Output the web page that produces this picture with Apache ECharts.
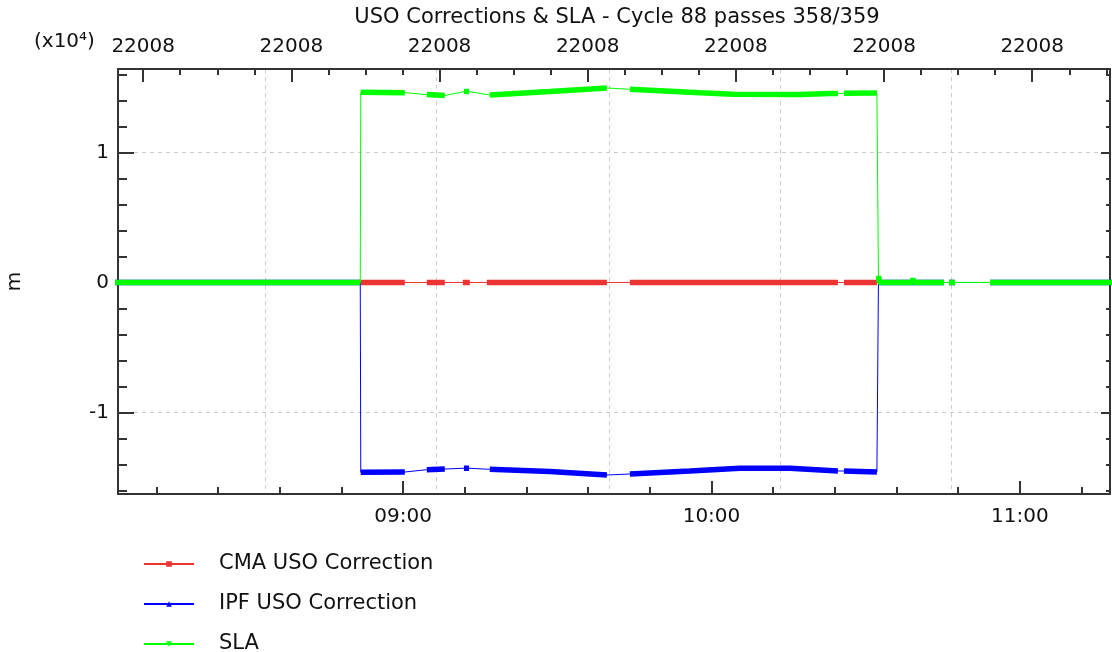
<!DOCTYPE html>
<html>
<head>
<meta charset="utf-8">
<title>USO Corrections & SLA</title>
<script src="https://cdn.jsdelivr.net/npm/echarts@6/dist/echarts.min.js"></script>
<style>
    html, body { margin: 0; padding: 0; background: #fff; }
    #chart { width: 1112px; height: 652px; }
</style>
</head>
<body>
<div id="chart"></div>
<script>
    // bottom axis: time of day
    const timeMin = '08:04:32';
    const timeMax = '11:17:32';
    const timeLabels = ['09:00', '10:00', '11:00'];
    const gridTimes = ['08:33:13', '09:06:30', '09:40:04', '10:13:19', '10:46:44'];

    // top axis
    const topMin = -0.17;
    const topMax = 6.525;
    const topTicks = [0, 1, 2, 3, 4, 5, 6];
    const topLabels = ['22008', '22008', '22008', '22008', '22008', '22008', '22008'];

    // y axis (m)
    const yMin = -16270;
    const yMax = 16420;
    const yTicks = [-10000, 0, 10000];

    const names = ['CMA USO Correction', 'IPF USO Correction', 'SLA'];

    // each run = densely sampled stretch, gaps between runs are drawn thin
    const cmaRuns = [
        [['08:51:46', 0], ['09:00:20', 0]],
        [['09:04:37', 0], ['09:08:07', 0]],
        [['09:11:37', 0], ['09:12:59', 0]],
        [['09:16:17', 0], ['09:39:39', 0]],
        [['09:44:07', 0], ['10:24:36', 0]],
        [['10:25:46', 0], ['10:32:11', 0]]
    ];
    const ipfRuns = [
        [['08:03:00', 0], ['08:51:40', 0]],
        [['08:51:46', -14600], ['09:00:20', -14580]],
        [['09:04:37', -14400], ['09:08:07', -14350]],
        [['09:11:50', -14290], ['09:12:50', -14290]],
        [['09:16:52', -14370], ['09:28:33', -14540], ['09:39:39', -14810]],
        [['09:44:07', -14730], ['09:55:48', -14500], ['10:05:32', -14290], ['10:15:16', -14290], ['10:24:36', -14500]],
        [['10:25:46', -14500], ['10:32:11', -14580]],
        [['10:32:29', 0], ['10:45:14', 0]],
        [['10:46:13', 0], ['10:47:23', 0]],
        [['10:54:11', 0], ['11:19:00', 0]]
    ];
    const slaRuns = [
        [['08:03:00', 0], ['08:51:40', 0]],
        [['08:51:46', 14630], ['09:00:20', 14600]],
        [['09:04:37', 14450], ['09:08:07', 14380]],
        [['09:11:50', 14680], ['09:12:50', 14680]],
        [['09:16:52', 14420], ['09:28:33', 14690], ['09:39:39', 14960]],
        [['09:44:07', 14860], ['09:49:58', 14750], ['09:57:44', 14600], ['10:04:10', 14480], ['10:17:13', 14450], ['10:23:03', 14540], ['10:24:36', 14540]],
        [['10:25:46', 14550], ['10:32:11', 14580]],
        [['10:32:29', 500], ['10:32:40', 0], ['10:39:00', 0], ['10:39:12', 300], ['10:39:24', 0], ['10:45:14', 0]],
        [['10:46:13', 0], ['10:47:23', 0]],
        [['10:54:11', 0], ['11:14:30', 0], ['11:14:38', 150], ['11:14:46', 0], ['11:19:00', 0]]
    ];

    const colors = ['#ee3333', '#0000ff', '#00ff00'];
    const FONT = 'DejaVu Sans';

    function toMin(s) {
        const p = s.split(':').map(Number);
        return p[0] * 60 + p[1] + (p[2] || 0) / 60;
    }
    function fmtTime(v) {
        const h = Math.floor(v / 60 + 1e-6), m = Math.round(v - h * 60);
        return String(h).padStart(2, '0') + ':' + String(m).padStart(2, '0');
    }
    function allPoints(runs) {
        return runs.flat().map(p => [toMin(p[0]), p[1]]);
    }
    function gapped(runs) {
        const out = [];
        runs.forEach((r, i) => {
            if (i) out.push([toMin(r[0][0]), '-']);
            r.forEach(p => out.push([toMin(p[0]), p[1]]));
        });
        return out;
    }
    function every(from, to, step) {
        const out = [];
        for (let v = from; v <= to + 1e-9; v += step) out.push(+v.toFixed(4));
        return out;
    }

    const tMin = toMin(timeMin), tMax = toMin(timeMax);
    const timeMinor = every(492, 672, 12);
    const topMinor = every(0, 6.5, 0.25);
    const yMinor = every(-16000, 16000, 2000);

    const axisLine = { show: true, onZero: false, lineStyle: { color: '#333', width: 2 } };
    const noLine = { show: false, onZero: false };
    const tickStyle = { color: '#333', width: 2 };
    const gridLine = { show: true, lineStyle: { color: '#cccccc', width: 1, type: [4, 4] } };
    const labelFont = { fontFamily: FONT, fontSize: 20, color: '#111' };

    function xAx(opt) {
        return Object.assign({
            type: 'value', gridIndex: 0, min: tMin, max: tMax,
            axisLine: noLine, axisLabel: { show: false }, splitLine: { show: false }
        }, opt);
    }
    function yAx(opt) {
        return Object.assign({
            type: 'value', gridIndex: 0, min: yMin, max: yMax,
            axisLine: noLine, axisLabel: { show: false }, splitLine: { show: false }
        }, opt);
    }

    const seriesList = [];
    [cmaRuns, ipfRuns, slaRuns].forEach((runs, i) => {
        const symbol = ['rect', 'triangle', 'path://M0,0L10,0L5,10Z'][i];
        seriesList.push({
            name: names[i], type: 'line', data: allPoints(runs),
            symbol: symbol, symbolSize: 5, showSymbol: false,
            lineStyle: { width: 1, color: colors[i] }, itemStyle: { color: colors[i] },
            silent: true, animation: false
        });
        seriesList.push({
            name: names[i], type: 'line', data: gapped(runs),
            symbol: 'none', connectNulls: false,
            lineStyle: { width: 5.5, color: colors[i] }, itemStyle: { color: colors[i] },
            silent: true, animation: false
        });
    });

    const chart = echarts.init(document.getElementById('chart'));
    chart.setOption({
        backgroundColor: '#fff',
        animation: false,
        textStyle: { fontFamily: FONT },
        title: {
            text: 'USO Corrections & SLA - Cycle 88 passes 358/359',
            left: 617, top: 7, padding: 0, textAlign: 'center',
            textStyle: { fontFamily: FONT, fontSize: 21, fontWeight: 'normal', color: '#111' }
        },
        graphic: [{
            type: 'text', left: 34, top: 32,
            style: { text: '(x10\u2074)', font: '20px "DejaVu Sans"', fill: '#111' }
        }],
        legend: {
            orient: 'vertical', left: 143, top: 552, height: 160, padding: 0,
            itemWidth: 50, itemHeight: 7, itemGap: 16,
            selectedMode: false,
            data: names,
            textStyle: { fontFamily: FONT, fontSize: 21, color: '#111', lineHeight: 24, padding: [0, 0, 0, 20] }
        },
        grid: { left: 118, right: 2, top: 69, bottom: 158, outerBoundsMode: 'none' },
        xAxis: [
            xAx({
                position: 'bottom', axisLine: axisLine,
                axisTick: { inside: true, length: 13, lineStyle: tickStyle, customValues: timeLabels.map(toMin) },
                axisLabel: { show: true, margin: 13, customValues: timeLabels.map(toMin), formatter: fmtTime, ...labelFont }
            }),
            xAx({
                position: 'bottom',
                axisTick: { inside: true, length: 7, lineStyle: tickStyle, customValues: timeMinor }
            }),
            xAx({
                position: 'top', min: topMin, max: topMax, axisLine: axisLine,
                axisTick: { inside: true, length: 13, lineStyle: tickStyle, customValues: topTicks },
                axisLabel: { show: true, margin: 12, customValues: topTicks, formatter: v => topLabels[Math.round(v)], ...labelFont }
            }),
            xAx({
                position: 'top', min: topMin, max: topMax,
                axisTick: { inside: true, length: 6, lineStyle: tickStyle, customValues: topMinor }
            }),
            xAx({
                position: 'bottom',
                axisTick: { show: false, customValues: gridTimes.map(toMin) },
                splitLine: gridLine
            })
        ],
        yAxis: [
            yAx({
                position: 'left', axisLine: axisLine,
                name: 'm', nameLocation: 'middle', nameGap: 93, nameRotate: 90,
                nameTextStyle: { fontFamily: FONT, fontSize: 20, color: '#111' },
                axisTick: { inside: true, length: 16, lineStyle: tickStyle, customValues: yTicks },
                axisLabel: { show: true, margin: 9, customValues: yTicks, formatter: v => String(Math.round(v / 10000)), ...labelFont },
                splitLine: gridLine
            }),
            yAx({
                position: 'left',
                axisTick: { inside: true, length: 9, lineStyle: tickStyle, customValues: yMinor }
            }),
            yAx({
                position: 'right', axisLine: axisLine,
                axisTick: { inside: true, length: 9, lineStyle: tickStyle, customValues: yTicks }
            }),
            yAx({
                position: 'right',
                axisTick: { inside: true, length: 4, lineStyle: tickStyle, customValues: yMinor }
            })
        ],
        series: seriesList
    });
</script>
</body>
</html>
